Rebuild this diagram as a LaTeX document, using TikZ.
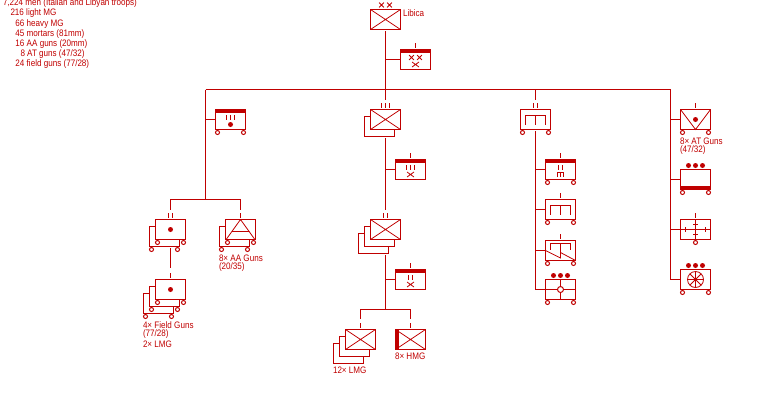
\documentclass[tikz,border=0pt]{standalone}
\usepackage{fontspec}
\usetikzlibrary{calc}
\setmainfont[FakeStretch=0.86]{Liberation Sans}
\definecolor{oob}{RGB}{192,0,0}
\tikzset{
  x=1pt,y=-1pt,
  every path/.append style={line width=1pt},
  unit/.style={draw=oob,fill=white,line width=1pt,rectangle,minimum width=30pt,minimum height=20pt,inner sep=0pt,outer sep=0pt},
  tag/.style={text=oob,anchor=west,inner sep=0pt,outer sep=0pt,font=\fontsize{9.4}{10}\selectfont},
  link/.style={draw=oob,line width=1pt},
  sym/.style={draw=oob,line width=1pt},
  pics/wheels/.style={code={
    \draw[sym,fill=white] (-13,13) circle[radius=2] (13,13) circle[radius=2];}},
  pics/midwheel/.style={code={
    \draw[sym,fill=white] (0,13) circle[radius=2];}},
  pics/infantry/.style={code={
    \draw[sym,line width=.8pt] (-15,-10) -- (15,10) (-15,10) -- (15,-10);}},
  pics/tickI/.style={code={\draw[sym] (0,-16.2) -- (0,-11.8);}},
  pics/tickII/.style={code={\draw[sym] (-2,-16.2) -- (-2,-11.8) (2,-16.2) -- (2,-11.8);}},
  pics/tickIII/.style={code={\draw[sym] (-4,-16.2) -- (-4,-11.8) (0,-16.2) -- (0,-11.8) (4,-16.2) -- (4,-11.8);}},
  pics/hq/.style={code={\fill[oob] (-15,-10) rectangle (15,-7);}},
  pics/foot/.style={code={\fill[oob] (-15,6) rectangle (15,10);}},
  pics/smallx/.style={code={\draw[sym,line width=.8pt] (-3.5,-2.5) -- (3.5,2.5) (-3.5,2.5) -- (3.5,-2.5);}},
  pics/tinyx/.style={code={\draw[sym,line width=.8pt] (-2.4,-2.4) -- (2.4,2.4) (-2.4,2.4) -- (2.4,-2.4);}},
  pics/gun/.style={code={\fill[oob] (0,0) circle[radius=2.5];}},
  pics/threedots/.style={code={\fill[oob] (-7,-14) circle[radius=2.5] (0,-14) circle[radius=2.5] (7,-14) circle[radius=2.5];}},
  pics/bridge/.style={code={\draw[sym] (-10,5) -- (-10,-4) -- (10,-4) -- (10,5) (0,-4) -- (0,5);}},
}
\begin{document}
\begin{tikzpicture}
\useasboundingbox (0,0) rectangle (770,400);

% strength summary
\node[tag] (s1) at (3,3.5) {7,224 men (Italian and Libyan troops)};
\node[tag] (s2) at (10.5,13.5) {216 light MG};
\node[tag] (s3) at (15.5,24) {66 heavy MG};
\node[tag] (s4) at (15.5,34) {45 mortars (81mm)};
\node[tag] (s5) at (15.5,44) {16 AA guns (20mm)};
\node[tag] (s6) at (20.5,54) {8 AT guns (47/32)};
\node[tag] (s7) at (15.5,64) {24 field guns (77/28)};

% division headquarters
\node[unit] (libica) at (385.5,19.5) {};
\pic at (libica.center) {infantry};
\pic at (381.5,5) {tinyx};
\pic at (389.5,5) {tinyx};
\node[tag] (libicaT) at (403,13) {Libica};
\node[unit] (divhq) at (415.5,59.5) {};
\pic at (divhq.center) {hq};
\pic at (divhq.center) {tickI};
\pic at (411.5,57.5) {tinyx};
\pic at (419.5,57.5) {tinyx};
\pic at (415.5,64.5) {smallx};

% bus coordinates
\coordinate (busL) at (205.5,89.5);
\coordinate (busC) at (385.5,89.5);
\coordinate (busE) at (535.5,89.5);
\coordinate (busR) at (670.5,89.5);
\coordinate (stemC) at (385.5,100);
\coordinate (stemE) at (535.5,100);
\draw[link] (busL) -- (busR);
\draw[link,shorten <=1.5pt] (libica.south) -- (stemC);
\draw[link] (divhq.west) -- (divhq.west -| libica);

% artillery regiment
\node[unit] (arty) at (230.5,119.5) {};
\pic at (arty.center) {hq};
\pic at (arty.center) {wheels};
\draw[sym] (226.5,115) -- (226.5,120) (230.5,115) -- (230.5,120) (234.5,115) -- (234.5,120);
\fill[oob] (230.5,124.5) circle[radius=2.5];
\coordinate (brL) at (170.5,199.5);
\coordinate (brM) at (205.5,199.5);
\coordinate (brR) at (240.5,199.5);
\coordinate (dropL) at (170.5,209.5);
\coordinate (dropR) at (240.5,209.5);
\draw[link] (busL) -- (brM);
\draw[link] (arty.west) -- (arty.west -| busL);
\draw[link] (dropL) -- (brL) -- (brR) -- (dropR);

% towed gun group
\node[unit] (fgB) at (164.5,236.5) {};
\pic at (fgB.center) {wheels};
\node[unit] (fgA) at (170.5,229.5) {};
\pic at (fgA.center) {wheels};
\pic at (fgA.center) {tickII};
\pic at (fgA.center) {gun};

% anti-aircraft group
\node[unit] (aaB) at (234.5,236.5) {};
\pic at (aaB.center) {wheels};
\node[unit] (aaA) at (240.5,229.5) {};
\pic at (aaA.center) {wheels};
\pic at (aaA.center) {tickI};
\draw[sym,line width=.8pt] ($(aaA.south west)+(1,-0.5)$) -- (aaA.north) -- ($(aaA.south east)+(-1,-0.5)$) (231.5,231.5) -- (249.5,231.5);
\node[tag] (aaT1) at (219,258) {8× AA Guns};
\node[tag] (aaT2) at (219,267) {(20/35)};

% field gun battery
\coordinate (fgFrom) at (170.5,248);
\coordinate (fgTo) at (170.5,268);
\draw[link] (fgFrom) -- (fgTo);
\node[unit] (btC) at (158.5,303.5) {};
\pic at (btC.center) {wheels};
\node[unit] (btB) at (164.5,296.5) {};
\pic at (btB.center) {wheels};
\node[unit] (btA) at (170.5,289.5) {};
\pic at (btA.center) {wheels};
\pic at (btA.center) {tickI};
\pic at (btA.center) {gun};
\node[tag] (btT1) at (143,325) {4× Field Guns};
\node[tag] (btT2) at (143,334) {(77/28)};
\node[tag] (btT3) at (143,344) {2× LMG};

% infantry regiment
\node[unit] (regB) at (379.5,126.5) {};
\node[unit] (regA) at (385.5,119.5) {};
\pic at (regA.center) {infantry};
\pic at (regA.center) {tickIII};
\coordinate (regStem) at (385.5,138);
\coordinate (batStem) at (385.5,210);
\draw[link] (regStem) -- (batStem);
\node[unit] (reghq) at (410.5,169.5) {};
\pic at (reghq.center) {hq};
\pic at (reghq.center) {tickI};
\draw[sym] (406.5,165) -- (406.5,170) (410.5,165) -- (410.5,170) (414.5,165) -- (414.5,170);
\pic at (410.5,174.5) {smallx};
\draw[link] (reghq.west) -- (reghq.west -| regA);
\draw[link] (busC) -- (stemC);

% infantry battalion
\node[unit] (batC) at (373.5,243.5) {};
\node[unit] (batB) at (379.5,236.5) {};
\node[unit] (batA) at (385.5,229.5) {};
\pic at (batA.center) {infantry};
\pic at (batA.center) {tickII};
\coordinate (batFoot) at (385.5,255);
\coordinate (coBr) at (385.5,309.5);
\draw[link] (batFoot) -- (coBr);
\node[unit] (bathq) at (410.5,279.5) {};
\pic at (bathq.center) {hq};
\pic at (bathq.center) {tickI};
\draw[sym] (408.5,275) -- (408.5,280) (412.5,275) -- (412.5,280);
\pic at (410.5,284.5) {smallx};
\draw[link] (bathq.west) -- (bathq.west -| batA);

% rifle and machine-gun companies
\coordinate (coL) at (360.5,309.5);
\coordinate (coR) at (410.5,309.5);
\coordinate (coDropL) at (360.5,318.5);
\coordinate (coDropR) at (410.5,318.5);
\draw[link] (coDropL) -- (coL) -- (coR) -- (coDropR);
\node[unit] (lmgC) at (348.5,353.5) {};
\node[unit] (lmgB) at (354.5,346.5) {};
\node[unit] (lmgA) at (360.5,339.5) {};
\pic at (lmgA.center) {infantry};
\pic at (lmgA.center) {tickI};
\node[tag] (lmgT) at (333,370) {12× LMG};
\node[unit] (hmg) at (410.5,339.5) {};
\fill[oob] (395.5,329.5) rectangle (399,349.5);
\pic at (hmg.center) {infantry};
\pic at (hmg.center) {tickI};
\node[tag] (hmgT) at (395,356) {8× HMG};

% engineer battalion
\node[unit] (eng) at (535.5,119.5) {};
\pic at (eng.center) {bridge};
\pic at (eng.center) {wheels};
\pic at (eng.center) {tickII};
\coordinate (engFoot) at (535.5,131);
\coordinate (engEnd) at (535.5,289.5);
\draw[link] (busE) -- (stemE);
\draw[link] (engFoot) -- (engEnd);
\node[unit] (enghq) at (560.5,169.5) {};
\pic at (enghq.center) {hq};
\pic at (enghq.center) {wheels};
\pic at (enghq.center) {tickI};
\draw[sym] (558.5,165) -- (558.5,170) (562.5,165) -- (562.5,170);
\draw[sym] (557.5,177) -- (557.5,172.5) -- (563.5,172.5) -- (563.5,177) (560.5,172.5) -- (560.5,177);
\draw[link] (enghq.west) -- (enghq.west -| eng);
\node[unit] (engA) at (560.5,209.5) {};
\pic at (engA.center) {bridge};
\pic at (engA.center) {wheels};
\pic at (engA.center) {tickI};
\draw[link] (engA.west) -- (engA.west -| eng);
\node[unit] (engB) at (560.5,250.5) {};
\pic at (engB.center) {wheels};
\pic at (engB.center) {tickI};
\draw[sym] (550.5,249.5) -- (550.5,243.5) -- (570.5,243.5) -- (570.5,249.5) (560.5,243.5) -- (560.5,258);
\draw[sym,line width=.8pt] (545.5,250.5) -- (560.5,258) -- (560.5,252.5) -- (575.5,260.5);
\draw[link] (engB.west) -- (engB.west -| eng);
\node[unit] (engC) at (560.5,289.5) {};
\draw[sym] (engC.west) -- (engC.east) (engC.north) -- (engC.south);
\draw[sym,fill=white] (engC.center) circle[radius=3];
\pic at (engC.center) {wheels};
\pic at (engC.center) {threedots};
\draw[link] (engC.west) -- (engEnd);

% divisional support units
\coordinate (rightEnd) at (670.5,279.5);
\draw[link] (busR) -- (rightEnd);
\node[unit] (at) at (695.5,119.5) {};
\draw[sym,line width=.8pt] (at.north west) -- (at.south) -- (at.north east);
\pic at (at.center) {gun};
\pic at (at.center) {wheels};
\pic at (at.center) {tickI};
\draw[link] (at.west) -- (at.west -| busR);
\node[tag] (atT1) at (680,141) {8× AT Guns};
\node[tag] (atT2) at (680,150) {(47/32)};
\node[unit] (heavy) at (695.5,179.5) {};
\pic at (heavy.center) {foot};
\pic at (heavy.center) {wheels};
\pic at (heavy.center) {threedots};
\draw[link] (heavy.west) -- (heavy.west -| busR);
\node[unit] (signal) at (695.5,229.5) {};
\draw[sym] (signal.west) -- (signal.east) (signal.north) -- (signal.south);
\draw[sym] (685.5,227) -- (685.5,232) (705.5,227) -- (705.5,232) (693,224.5) -- (698,224.5) (693,234.5) -- (698,234.5);
\pic at (signal.center) {midwheel};
\pic at (signal.center) {tickI};
\draw[link] (signal.west) -- (signal.west -| busR);
\node[unit] (wheelunit) at (695.5,279.5) {};
\draw[sym,line width=.8pt] (wheelunit.center) circle[radius=8];
\foreach \a in {0,45,90,135}
  \draw[sym,line width=.8pt] (wheelunit.center) ++(\a:8) -- ++(\a+180:16);
\pic at (wheelunit.center) {wheels};
\pic at (wheelunit.center) {threedots};
\draw[link] (wheelunit.west) -- (rightEnd);
\end{tikzpicture}
\end{document}
